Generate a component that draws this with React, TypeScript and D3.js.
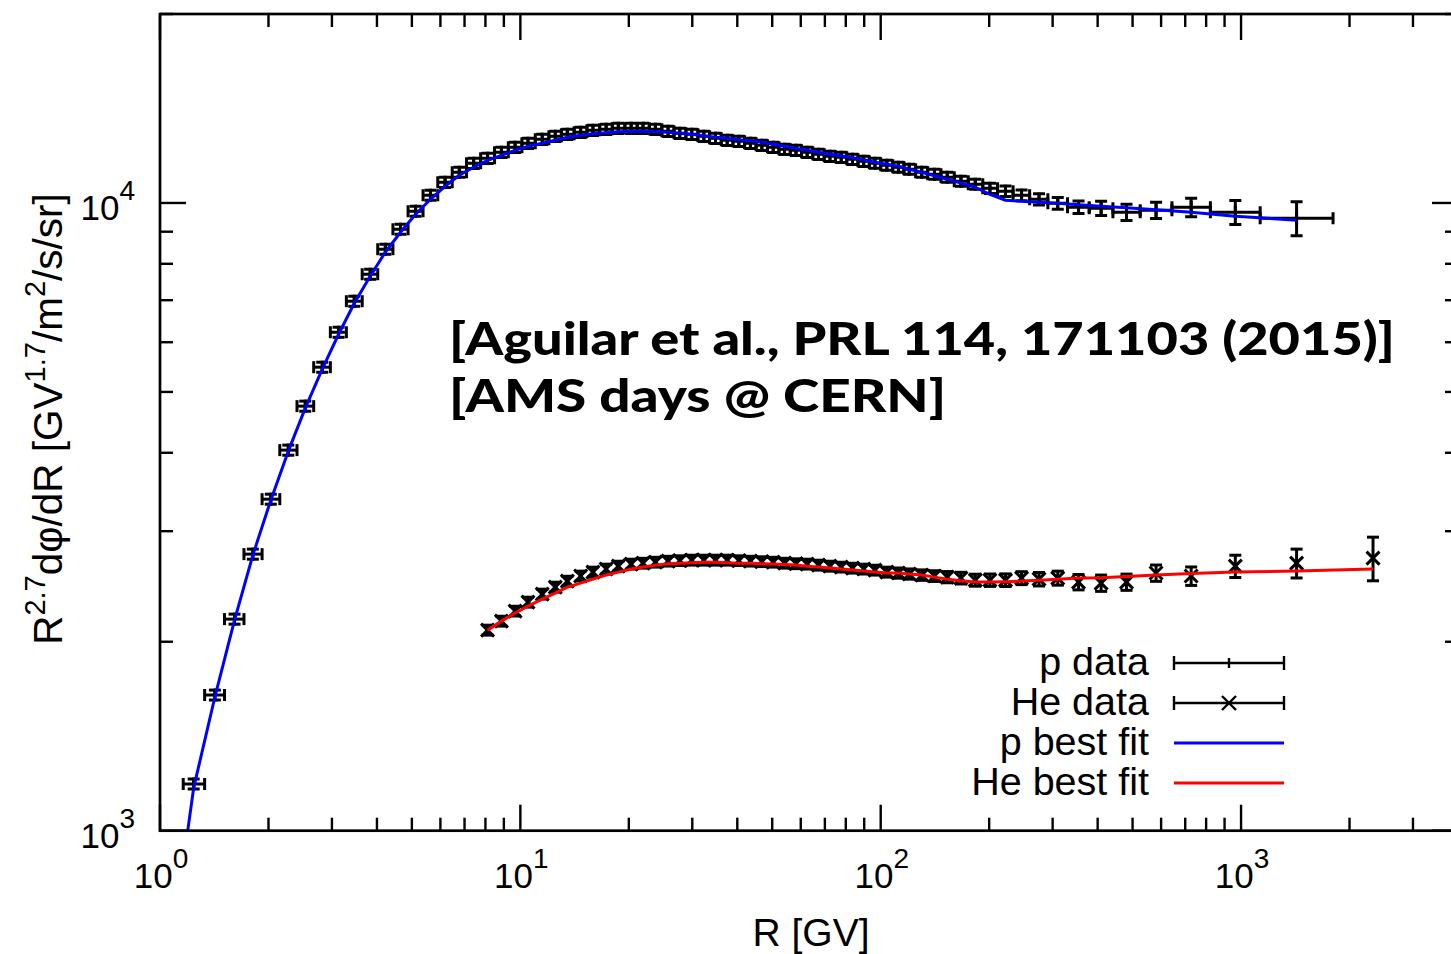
import React from "react";
import * as d3 from "d3";

// ---------- data ----------
// proton bins (AMS-02, PRL 114, 171103)
const pR = [1.24, 1.42, 1.61, 1.81, 2.03, 2.27, 2.53, 2.82, 3.13, 3.46, 3.83, 4.22, 4.65, 5.12, 5.63, 6.18, 6.77, 7.42, 8.11, 8.86, 9.67, 10.5, 11.5, 12.5, 13.5, 14.7, 15.9, 17.3, 18.7, 20.3, 21.9, 23.7, 25.7, 27.7, 29.9, 32.3, 34.8, 37.5, 40.4, 43.5, 46.8, 50.3, 54.1, 58.2, 62.5, 67.2, 72.3, 77.7, 83.5, 89.7, 96.4, 104, 112, 120, 130, 141, 153, 167, 183, 201, 222, 246, 275, 310, 354, 409, 481, 581, 727, 964, 1426];
const pRlo = [1.16, 1.33, 1.51, 1.71, 1.92, 2.15, 2.4, 2.67, 2.97, 3.29, 3.64, 4.02, 4.43, 4.88, 5.37, 5.9, 6.47, 7.09, 7.76, 8.48, 9.26, 10.1, 11.0, 12.0, 13.0, 14.1, 15.3, 16.6, 18.0, 19.5, 21.1, 22.8, 24.7, 26.7, 28.8, 31.1, 33.5, 36.1, 38.9, 41.9, 45.1, 48.5, 52.2, 56.1, 60.3, 64.8, 69.7, 74.9, 80.5, 86.5, 93.0, 100, 108, 116, 125, 135, 147, 160, 175, 192, 211, 233, 259, 291, 330, 379, 441, 525, 643, 822, 1130];
const pRhi = [1.33, 1.51, 1.71, 1.92, 2.15, 2.4, 2.67, 2.97, 3.29, 3.64, 4.02, 4.43, 4.88, 5.37, 5.9, 6.47, 7.09, 7.76, 8.48, 9.26, 10.1, 11.0, 12.0, 13.0, 14.1, 15.3, 16.6, 18.0, 19.5, 21.1, 22.8, 24.7, 26.7, 28.8, 31.1, 33.5, 36.1, 38.9, 41.9, 45.1, 48.5, 52.2, 56.1, 60.3, 64.8, 69.7, 74.9, 80.5, 86.5, 93.0, 100, 108, 116, 125, 135, 147, 160, 175, 192, 211, 233, 259, 291, 330, 379, 441, 525, 643, 822, 1130, 1800];
const pFlux = [1187, 1645, 2173, 2758, 3374, 4039, 4746, 5475, 6224, 6974, 7700, 8440, 9080, 9700, 10286, 10788, 11192, 11566, 11780, 12042, 12265, 12446, 12630, 12770, 12864, 12958, 13054, 13102, 13150, 13150, 13150, 13102, 13006, 12911, 12864, 12770, 12676, 12584, 12538, 12446, 12356, 12265, 12176, 12131, 12042, 11954, 11867, 11823, 11737, 11651, 11566, 11482, 11399, 11316, 11192, 11111, 10990, 10830, 10712, 10553, 10438, 10286, 10137, 9989, 9844, 9808, 9665, 9736, 9844, 9665, 9455];
const pErr = [22, 30, 40, 51, 62, 75, 88, 101, 115, 129, 142, 156, 168, 179, 190, 200, 207, 214, 218, 223, 227, 230, 234, 236, 238, 240, 242, 242, 243, 243, 243, 242, 241, 239, 238, 236, 235, 233, 232, 230, 229, 227, 225, 224, 223, 221, 220, 218, 217, 215, 213, 212, 210, 209, 207, 205, 203, 200, 198, 200, 200, 205, 210, 215, 227, 255, 290, 292, 335, 425, 586];
// proton best fit, evaluated at the bin centres
const pFitR = [1.08, ...pR];
const pFit = [660, 1170, 1633, 2165, 2748, 3362, 4024, 4711, 5435, 6178, 6923, 7644, 8348, 8981, 9595, 10137, 10631, 11070, 11399, 11694, 11910, 12131, 12310, 12446, 12584, 12723, 12817, 12887, 12934, 12982, 13006, 13006, 12982, 12958, 12911, 12864, 12793, 12723, 12676, 12607, 12561, 12492, 12401, 12310, 12221, 12131, 12042, 11954, 11889, 11802, 11716, 11609, 11524, 11441, 11316, 11192, 11051, 10910, 10753, 10593, 10324, 10100, 10063, 10026, 9989, 9934, 9880, 9826, 9754, 9665, 9525, 9387];

// helium
const heR = [8.11, 8.86, 9.67, 10.5, 11.5, 12.5, 13.5, 14.7, 15.9, 17.3, 18.7, 20.3, 21.9, 23.7, 25.7, 27.7, 29.9, 32.3, 34.8, 37.5, 40.4, 43.5, 46.8, 50.3, 54.1, 58.2, 62.5, 67.2, 72.3, 77.7, 83.5, 89.7, 96.4, 104, 112, 120, 130, 141, 153, 167, 183, 201, 222, 246, 275, 310, 354, 409, 481, 581, 727, 964, 1426, 2324];
const heFlux = [2087, 2157, 2238, 2313, 2382, 2444, 2498, 2545, 2582, 2611, 2639, 2659, 2668, 2678, 2688, 2693, 2698, 2698, 2698, 2698, 2693, 2688, 2683, 2678, 2668, 2663, 2659, 2649, 2639, 2630, 2620, 2611, 2601, 2582, 2573, 2564, 2554, 2545, 2535, 2526, 2507, 2507, 2507, 2526, 2516, 2526, 2489, 2480, 2489, 2573, 2545, 2639, 2668, 2718];
const heErr = [38, 39, 40, 42, 43, 44, 45, 46, 47, 47, 48, 48, 48, 48, 48, 48, 49, 49, 49, 49, 48, 48, 48, 48, 48, 48, 48, 48, 48, 47, 47, 47, 47, 47, 48, 48, 49, 50, 52, 54, 55, 57, 58, 60, 62, 65, 70, 74, 74, 77, 86, 108, 141, 217];
const heFit = [2087, 2157, 2222, 2279, 2339, 2391, 2444, 2480, 2516, 2554, 2582, 2611, 2630, 2649, 2663, 2668, 2673, 2678, 2678, 2673, 2668, 2668, 2663, 2659, 2654, 2649, 2639, 2630, 2620, 2611, 2601, 2592, 2582, 2573, 2573, 2564, 2554, 2535, 2516, 2502, 2489, 2489, 2493, 2498, 2507, 2516, 2526, 2530, 2540, 2554, 2568, 2582, 2592, 2611];

// axes
const xDomain = [1, 4000];
const yDomain = [1000, 20000];
const xMajorTicks = [1, 10, 100, 1000];
const xMajorExp = ["0", "1", "2", "3"];
const yMajorTicks = [1000, 10000];
const yMajorExp = ["3", "4"];

const legendLabels = ["p data", "He data", "p best fit", "He best fit"];
const noteLines = ["[Aguilar et al., PRL 114, 171103 (2015)]", "[AMS days @ CERN]"];

// ---------- layout ----------
const W = 1451;
const H = 954;
const L = 160, R = 1458, T = 14, B = 830.7;
const FONT = "'Liberation Sans', Arial, Helvetica, sans-serif";
const SW = 2.4;
const DW = 3;

type Part = [string, boolean];

function SupText(props: { x: number; y: number; parts: Part[]; size: number; supSize: number; rise: number; anchor: string; transform?: string }) {
  const { x, y, parts, size, supSize, rise, anchor, transform } = props;
  let raised = false;
  return (
    <text x={x} y={y} fontSize={size} fontFamily={FONT} textAnchor={anchor} transform={transform} fill="#000">
      {parts.map(([t, sup], i) => {
        let dy = 0;
        if (sup && !raised) { dy = -rise; raised = true; }
        else if (!sup && raised) { dy = rise; raised = false; }
        return (
          <tspan key={i} dy={dy} fontSize={sup ? supSize : size}>{t}</tspan>
        );
      })}
    </text>
  );
}

export default function App() {
  const x = d3.scaleLog().domain(xDomain).range([L, R]);
  const y = d3.scaleLog().domain(yDomain).range([B, T]);

  const isMajor = (v: number) => Math.abs(Math.log10(v) - Math.round(Math.log10(v))) < 1e-9;
  const xTicks = x.ticks();
  const yTicks = y.ticks();

  const line = d3.line<[number, number]>().x(d => x(d[0])).y(d => y(d[1]));
  const pFitPath = line(pFitR.map((r, i) => [r, pFit[i]] as [number, number])) || "";
  const heFitPath = line(heR.map((r, i) => [r, heFit[i]] as [number, number])) || "";

  const cap = 6;
  const pt = 6.5;

  return (
    <svg width={W} height={H} style={{ position: "absolute", left: 0, top: 0, background: "#fff" }}>
      <defs>
        <clipPath id="plotClip">
          <rect x={L} y={T} width={R - L} height={B - T} />
        </clipPath>
      </defs>
      <rect x={0} y={0} width={W} height={H} fill="#fff" />

      {/* ticks */}
      <g stroke="#000" strokeWidth={SW}>
        {xTicks.map((t, i) => {
          const len = isMajor(t) ? 26 : 13;
          const px = x(t);
          return (
            <g key={"xt" + i}>
              <line x1={px} x2={px} y1={B} y2={B - len} />
              <line x1={px} x2={px} y1={T} y2={T + len} />
            </g>
          );
        })}
        {yTicks.map((t, i) => {
          const len = isMajor(t) ? 26 : 13;
          const py = y(t);
          return (
            <g key={"yt" + i}>
              <line x1={L} x2={L + len} y1={py} y2={py} />
              <line x1={R} x2={R - len} y1={py} y2={py} />
            </g>
          );
        })}
      </g>

      {/* tick labels */}
      {xMajorTicks.map((t, i) => (
        <SupText key={"xl" + i} x={x(t) + 1} y={888} parts={[["10", false], [xMajorExp[i], true]]} size={35} supSize={28} rise={20} anchor="middle" />
      ))}
      {yMajorTicks.map((t, i) => (
        <SupText key={"yl" + i} x={135} y={y(t) + 17} parts={[["10", false], [yMajorExp[i], true]]} size={35} supSize={28} rise={20} anchor="end" />
      ))}

      {/* axis titles */}
      <SupText x={811} y={946} parts={[["R [GV]", false]]} size={39} supSize={28} rise={18} anchor="middle" />
      <SupText
        x={0}
        y={0}
        transform={`translate(62,419) rotate(-90)`}
        parts={[["R", false], ["2.7", true], ["dφ/dR [GV", false], ["1.7", true], ["/m", false], ["2", true], ["/s/sr]", false]]}
        size={40.5}
        supSize={29}
        rise={17}
        anchor="middle"
      />

      {/* annotation */}
      <g fontFamily="Lato, 'DejaVu Sans', sans-serif" fontWeight={900} fontSize={46} fill="#000">
        <text x={449} y={355} textLength={946} lengthAdjust="spacingAndGlyphs">{noteLines[0]}</text>
        <text x={449} y={412} textLength={497} lengthAdjust="spacingAndGlyphs">{noteLines[1]}</text>
      </g>

      {/* data */}
      <g clipPath="url(#plotClip)" stroke="#000" strokeWidth={DW} fill="none">
        {pR.map((r, i) => {
          const cx = x(r);
          const cy = y(pFlux[i]);
          const x0 = x(pRlo[i]);
          const x1 = x(pRhi[i]);
          const yTop = y(pFlux[i] + pErr[i]);
          const yBot = y(pFlux[i] - pErr[i]);
          return (
            <g key={"p" + i}>
              <line x1={x0} x2={x1} y1={cy} y2={cy} />
              <line x1={x0} x2={x0} y1={cy - cap} y2={cy + cap} />
              <line x1={x1} x2={x1} y1={cy - cap} y2={cy + cap} />
              <line x1={cx} x2={cx} y1={yTop} y2={yBot} />
              <line x1={cx - cap} x2={cx + cap} y1={yTop} y2={yTop} />
              <line x1={cx - cap} x2={cx + cap} y1={yBot} y2={yBot} />
              <line x1={cx} x2={cx} y1={cy - pt} y2={cy + pt} />
            </g>
          );
        })}
        {heR.map((r, i) => {
          const cx = x(r);
          const cy = y(heFlux[i]);
          const yTop = y(heFlux[i] + heErr[i]);
          const yBot = y(heFlux[i] - heErr[i]);
          return (
            <g key={"he" + i}>
              <line x1={cx} x2={cx} y1={yTop} y2={yBot} />
              <line x1={cx - cap} x2={cx + cap} y1={yTop} y2={yTop} />
              <line x1={cx - cap} x2={cx + cap} y1={yBot} y2={yBot} />
              <line x1={cx - pt} x2={cx + pt} y1={cy - pt} y2={cy + pt} />
              <line x1={cx - pt} x2={cx + pt} y1={cy + pt} y2={cy - pt} />
            </g>
          );
        })}
      </g>

      {/* fits */}
      <g clipPath="url(#plotClip)" fill="none" strokeWidth={3} strokeLinejoin="round">
        <path d={pFitPath} stroke="#0000ff" />
        <path d={heFitPath} stroke="#ff0000" />
      </g>

      {/* legend */}
      <g fontFamily={FONT} fontSize={39.5} textAnchor="end" fill="#000">
        {legendLabels.map((lab, i) => (
          <text key={"lg" + i} x={1149} y={675 + i * 40}>{lab}</text>
        ))}
      </g>
      <g stroke="#000" strokeWidth={SW}>
        <line x1={1174} x2={1284} y1={663} y2={663} />
        <line x1={1174} x2={1174} y1={656} y2={670} />
        <line x1={1284} x2={1284} y1={656} y2={670} />
        <line x1={1229} x2={1229} y1={658} y2={668} />
        <line x1={1174} x2={1284} y1={703} y2={703} />
        <line x1={1174} x2={1174} y1={696} y2={710} />
        <line x1={1284} x2={1284} y1={696} y2={710} />
        <line x1={1222} x2={1236} y1={696} y2={710} />
        <line x1={1222} x2={1236} y1={710} y2={696} />
      </g>
      <line x1={1174} x2={1284} y1={743} y2={743} stroke="#0000ff" strokeWidth={3} />
      <line x1={1174} x2={1284} y1={783} y2={783} stroke="#ff0000" strokeWidth={3} />

      {/* frame */}
      <rect x={L} y={T} width={R - L} height={B - T} fill="none" stroke="#000" strokeWidth={SW + 0.3} />
    </svg>
  );
}
